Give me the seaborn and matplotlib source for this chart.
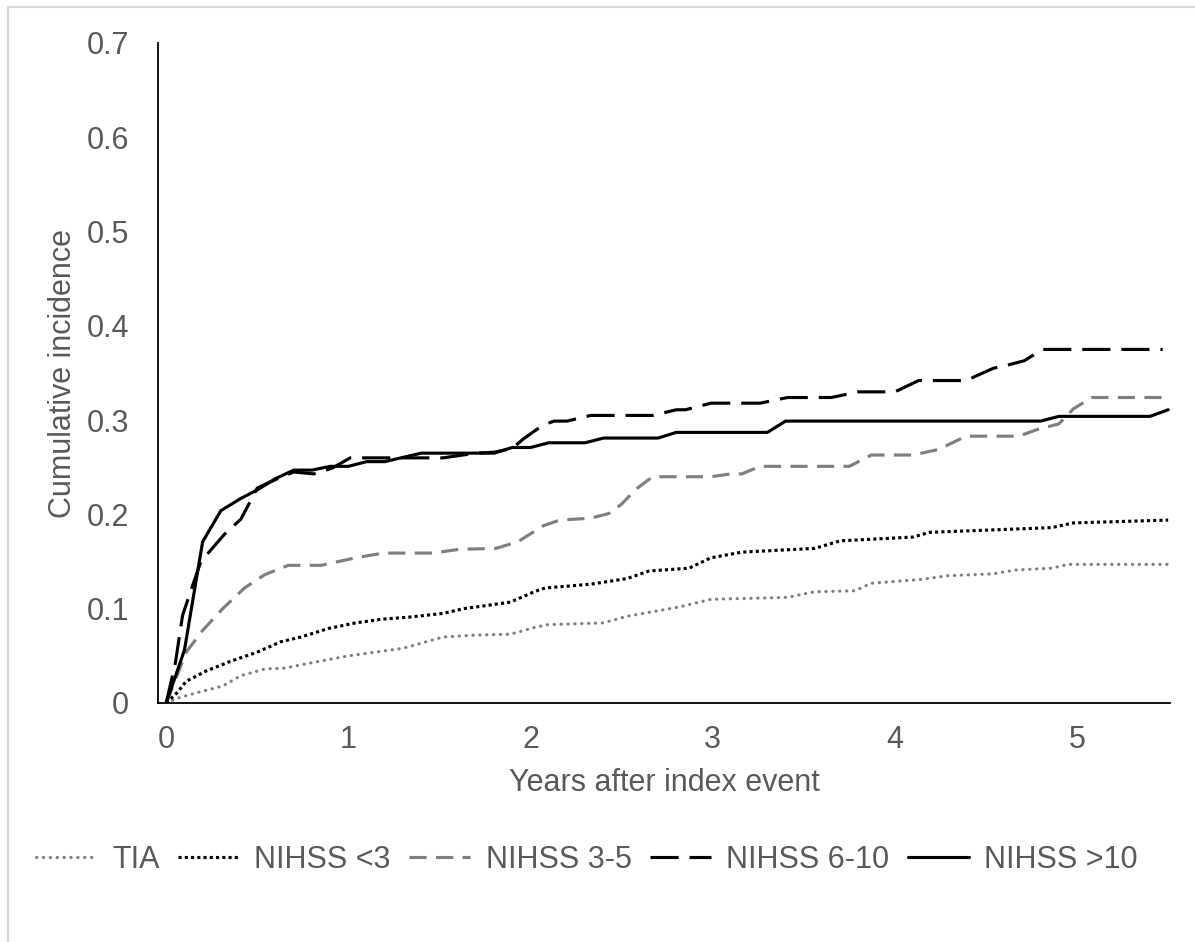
import matplotlib
matplotlib.use("Agg")
import matplotlib.pyplot as plt
from matplotlib.patches import Rectangle
import seaborn as sns
import pandas as pd

# ---- data ----
series_names = ["TIA", "NIHSS <3", "NIHSS 3-5", "NIHSS 6-10", "NIHSS >10"]

tia_x = [0, 0.06, 0.17, 0.31, 0.41, 0.54, 0.65, 0.78, 0.89, 1.0, 1.15, 1.3, 1.41, 1.52, 1.7, 1.89,
         2.02, 2.09, 2.4, 2.53, 2.82, 2.99, 3.41, 3.56, 3.78, 3.87, 4.14, 4.29, 4.54, 4.66, 4.86, 4.95, 5.5]
tia_y = [0, 0.005, 0.011, 0.018, 0.029, 0.036, 0.037, 0.042, 0.046, 0.050, 0.054, 0.058, 0.064, 0.070, 0.072, 0.073,
         0.080, 0.083, 0.085, 0.092, 0.102, 0.110, 0.112, 0.118, 0.119, 0.127, 0.131, 0.135, 0.137, 0.141, 0.143, 0.147, 0.147]

lt3_x = [0, 0.06, 0.11, 0.22, 0.35, 0.5, 0.63, 0.74, 0.89, 1.04, 1.19, 1.33, 1.52, 1.63, 1.78, 1.89,
         2.02, 2.08, 2.33, 2.53, 2.65, 2.87, 2.99, 3.16, 3.56, 3.7, 4.1, 4.19, 4.86, 4.98, 5.5]
lt3_y = [0, 0.011, 0.023, 0.034, 0.044, 0.054, 0.065, 0.070, 0.079, 0.085, 0.089, 0.091, 0.095, 0.100, 0.104, 0.107,
         0.118, 0.122, 0.126, 0.132, 0.140, 0.143, 0.154, 0.160, 0.164, 0.172, 0.176, 0.181, 0.186, 0.191, 0.194]

n35_x = [0, 0.11, 0.2, 0.31, 0.43, 0.54, 0.67, 0.85, 1.04, 1.19, 1.46, 1.61, 1.81, 1.93, 2.07, 2.16, 2.33,
         2.43, 2.5, 2.58, 2.67, 2.99, 3.1, 3.16, 3.26, 3.75, 3.87, 4.1, 4.24, 4.39, 4.68, 4.78, 4.9, 4.98, 5.08, 5.5]
n35_y = [0, 0.054, 0.077, 0.100, 0.122, 0.136, 0.146, 0.146, 0.154, 0.159, 0.159, 0.163, 0.164, 0.171, 0.188, 0.194, 0.196,
         0.201, 0.211, 0.227, 0.240, 0.240, 0.243, 0.243, 0.251, 0.251, 0.263, 0.263, 0.269, 0.283, 0.283, 0.290, 0.296, 0.312, 0.324, 0.324]

n610_x = [0, 0.05, 0.09, 0.13, 0.19, 0.32, 0.41, 0.5, 0.6, 0.7, 0.81, 0.91, 1.01, 1.52, 1.7, 1.8, 1.9, 1.96,
          2.07, 2.13, 2.2, 2.33, 2.67, 2.8, 2.85, 2.99, 3.26, 3.41, 3.65, 3.8, 4.0, 4.13, 4.39, 4.54, 4.63, 4.71, 4.81, 5.47]
n610_y = [0, 0.042, 0.093, 0.116, 0.150, 0.179, 0.195, 0.228, 0.237, 0.245, 0.243, 0.249, 0.260, 0.260, 0.265, 0.266, 0.270, 0.280,
          0.295, 0.299, 0.299, 0.305, 0.305, 0.311, 0.311, 0.318, 0.318, 0.324, 0.324, 0.330, 0.330, 0.342, 0.342, 0.355, 0.359, 0.363, 0.375, 0.375]

n10_x = [0, 0.1, 0.2, 0.3, 0.41, 0.5, 0.6, 0.7, 0.8, 0.9, 1.0, 1.1, 1.2, 1.4, 1.8, 1.9, 2.0, 2.1, 2.3,
         2.4, 2.7, 2.8, 3.3, 3.4, 4.8, 4.9, 5.4, 5.5]
n10_y = [0, 0.056, 0.171, 0.204, 0.217, 0.226, 0.238, 0.247, 0.247, 0.251, 0.251, 0.256, 0.256, 0.265, 0.265, 0.271, 0.271, 0.276, 0.276,
         0.281, 0.281, 0.287, 0.287, 0.299, 0.299, 0.304, 0.304, 0.311]

x_ticks = [0, 1, 2, 3, 4, 5]
y_ticks = [0, 0.1, 0.2, 0.3, 0.4, 0.5, 0.6, 0.7]
y_tick_labels = ["0", "0.1", "0.2", "0.3", "0.4", "0.5", "0.6", "0.7"]

# ---- styles ----
GRAY = "#7f7f7f"
TEXT = "#595959"
styles = {
    "TIA": dict(color=GRAY, linestyle=(0, (0.1, 2.1)), dash_capstyle="round"),
    "NIHSS <3": dict(color="black", linestyle=(0, (1, 1)), dash_capstyle="butt"),
    "NIHSS 3-5": dict(color=GRAY, linestyle=(0, (5.5, 3)), dash_capstyle="butt"),
    "NIHSS 6-10": dict(color="black", linestyle=(0, (9, 3.5)), dash_capstyle="butt"),
    "NIHSS >10": dict(color="black", linestyle="-"),
}

sns.set_theme(style="white")
plt.rcParams["font.family"] = ["Liberation Sans", "DejaVu Sans"]
FS = 22

fig = plt.figure(figsize=(11.95, 9.42), dpi=100)
ax = fig.add_axes([158 / 1195, 1 - 703 / 942, (1170 - 158) / 1195, (703 - 43) / 942])

data = [(tia_x, tia_y), (lt3_x, lt3_y), (n35_x, n35_y), (n610_x, n610_y), (n10_x, n10_y)]
for name, (xs, ys) in zip(series_names, data):
    df = pd.DataFrame({"x": xs, "y": ys})
    sns.lineplot(data=df, x="x", y="y", ax=ax, sort=False, estimator=None,
                 linewidth=2.25, label=name, **styles[name])

ax.set_xlim(-0.045, 5.51)
ax.set_ylim(0, 0.7)
ax.set_xticks(x_ticks)
ax.set_xticklabels([str(t) for t in x_ticks])
ax.set_yticks(y_ticks)
ax.set_yticklabels(y_tick_labels)
ax.tick_params(axis="both", length=0, labelsize=FS, labelcolor=TEXT)
ax.tick_params(axis="y", pad=21)
ax.tick_params(axis="x", pad=16)
for s in ["top", "right"]:
    ax.spines[s].set_visible(False)
for s in ["left", "bottom"]:
    ax.spines[s].set_color("black")
    ax.spines[s].set_linewidth(1.3)
ax.set_xlabel("Years after index event", fontsize=FS, color=TEXT, labelpad=9)
ax.set_ylabel("Cumulative incidence", fontsize=FS, color=TEXT, labelpad=6)
ax.grid(False)

handles, labels = ax.get_legend_handles_labels()
ax.get_legend().remove()
fig.legend(handles, labels, loc="center", bbox_to_anchor=(0.491, 1 - 860 / 942), ncol=5,
           frameon=False, fontsize=FS, labelcolor=TEXT, handlelength=2.0,
           handletextpad=0.5, columnspacing=0.6, borderaxespad=0)

fig.add_artist(Rectangle((7.5 / 1195, -0.2), 1.5, 1.2 - 6.5 / 942, transform=fig.transFigure,
                         fill=False, edgecolor="#d9d9d9", linewidth=1.5))

fig.savefig("out.png", dpi=100, facecolor="white")
